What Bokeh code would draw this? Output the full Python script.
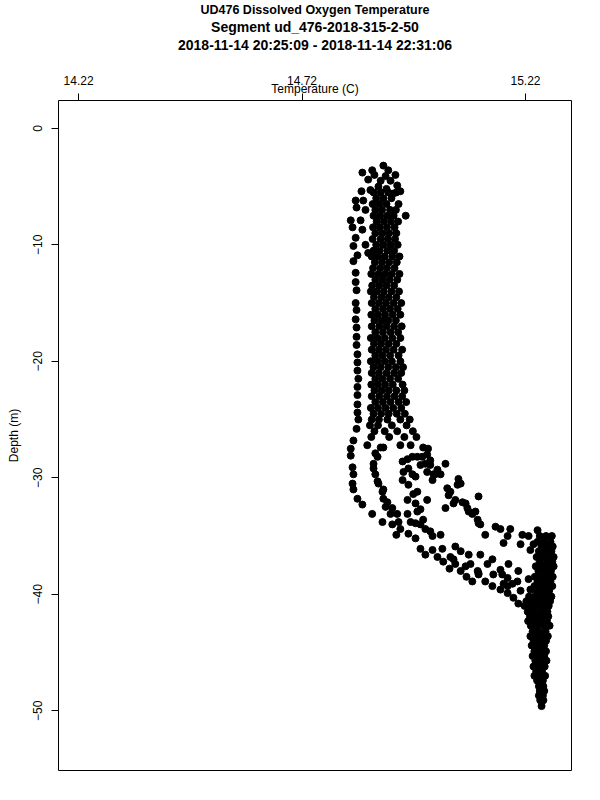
from bokeh.plotting import figure
from bokeh.models import Range1d, FixedTicker, Title
from bokeh.embed import file_html
from bokeh.resources import INLINE

title_lines = ["UD476 Dissolved Oxygen Temperature",
               "Segment ud_476-2018-315-2-50",
               "2018-11-14 20:25:09 - 2018-11-14 22:31:06"]
x_label = "Temperature (C)"
y_label = "Depth (m)"
x_ticks = [14.22, 14.72, 15.22]
y_ticks = [0, -10, -20, -30, -40, -50]

# ---- scattered points near the surface ----
top_temp = [14.902, 14.877, 14.913, 14.855, 14.882, 14.907, 14.929, 14.868, 14.896,
            14.918, 14.933, 14.853, 14.873, 14.891, 14.909, 14.924, 14.940]
top_depth = [-3.2, -3.6, -3.6, -3.8, -4.0, -4.1, -4.0, -4.4, -4.5,
             -4.5, -4.9, -5.4, -5.3, -5.0, -5.2, -5.6, -5.4]

# ---- far-left cast ----
left_temp = [14.840, 14.842, 14.829, 14.833, 14.840, 14.835, 14.844, 14.835, 14.840, 14.840,
             14.842, 14.840, 14.842, 14.840, 14.842, 14.842, 14.842, 14.844, 14.844, 14.844,
             14.846, 14.844, 14.844, 14.844, 14.844, 14.846, 14.842, 14.835, 14.829, 14.829,
             14.833, 14.835, 14.833, 14.835, 14.844, 14.855, 14.877, 14.900]
left_depth = [-6.2, -6.8, -7.9, -8.5, -9.4, -10.1, -10.9, -11.4, -12.4, -13.2,
              -13.9, -15.0, -15.6, -16.4, -17.1, -17.9, -18.6, -19.4, -20.1, -20.8,
              -21.5, -22.2, -22.9, -23.7, -24.4, -25.0, -25.8, -26.8, -27.5, -28.1,
              -29.1, -29.7, -30.5, -31.0, -31.8, -32.3, -33.1, -33.8]

# ---- second cast, upper part ----
second_temp = [14.857, 14.862, 14.851, 14.855, 14.862, 14.868, 14.866]
second_depth = [-6.2, -7.0, -7.9, -8.7, -10.0, -10.7, -27.2]

# ---- dense mixed-layer core: (depth, temperatures) ----
core_rows = [
    (-5.5, [14.880, 14.896, 14.913, 14.931]),
    (-6.0, [14.886, 14.902, 14.920]),
    (-6.5, [14.878, 14.893, 14.909, 14.936]),
    (-7.0, [14.884, 14.899, 14.917, 14.930]),
    (-7.5, [14.880, 14.895, 14.911, 14.925, 14.952]),
    (-8.0, [14.887, 14.903, 14.919, 14.935]),
    (-8.5, [14.879, 14.894, 14.910, 14.927]),
    (-9.0, [14.884, 14.900, 14.915, 14.931]),
    (-9.5, [14.878, 14.896, 14.912, 14.928]),
    (-10.0, [14.886, 14.902, 14.918, 14.934]),
    (-10.5, [14.880, 14.894, 14.911, 14.926]),
    (-11.0, [14.876, 14.890, 14.905, 14.922, 14.938]),
    (-11.5, [14.883, 14.899, 14.915, 14.932]),
    (-12.0, [14.879, 14.895, 14.910, 14.927]),
    (-12.5, [14.875, 14.891, 14.906, 14.921, 14.938]),
    (-13.0, [14.884, 14.900, 14.916, 14.933]),
    (-13.5, [14.877, 14.893, 14.909, 14.926]),
    (-14.0, [14.874, 14.887, 14.903, 14.920, 14.937]),
    (-14.5, [14.881, 14.898, 14.914, 14.931]),
    (-15.0, [14.876, 14.892, 14.908, 14.925, 14.942]),
    (-15.5, [14.884, 14.901, 14.917, 14.934]),
    (-16.0, [14.875, 14.890, 14.906, 14.923, 14.940]),
    (-16.5, [14.882, 14.898, 14.913, 14.930]),
    (-17.0, [14.876, 14.893, 14.909, 14.926, 14.943]),
    (-17.5, [14.884, 14.901, 14.918, 14.935]),
    (-18.0, [14.874, 14.889, 14.905, 14.922, 14.940]),
    (-18.5, [14.881, 14.897, 14.914, 14.931]),
    (-19.0, [14.876, 14.892, 14.908, 14.925, 14.944]),
    (-19.5, [14.884, 14.900, 14.917, 14.936]),
    (-20.0, [14.874, 14.889, 14.905, 14.921, 14.940]),
    (-20.5, [14.880, 14.896, 14.913, 14.930, 14.946]),
    (-21.0, [14.876, 14.892, 14.909, 14.926, 14.942]),
    (-21.5, [14.884, 14.900, 14.917, 14.935]),
    (-22.0, [14.875, 14.890, 14.906, 14.923, 14.945]),
    (-22.5, [14.882, 14.898, 14.914, 14.931, 14.949]),
    (-23.0, [14.876, 14.893, 14.910, 14.927, 14.944]),
    (-23.5, [14.884, 14.901, 14.918, 14.936, 14.953]),
    (-24.0, [14.874, 14.890, 14.907, 14.924, 14.942]),
    (-24.5, [14.880, 14.897, 14.914, 14.932, 14.950]),
    (-25.0, [14.876, 14.892, 14.911, 14.940, 14.961]),
    (-25.5, [14.872, 14.890, 14.921, 14.954]),
    (-26.0, [14.882, 14.905, 14.933, 14.968]),
    (-26.5, [14.875, 14.915, 14.949, 14.976]),
]

# ---- thermocline casts ----
thermo_temp = [
    14.884, 14.889, 14.880, 14.880, 14.884, 14.889, 14.891, 14.902, 14.900, 14.902,
    14.911, 14.907, 14.922, 14.918, 14.933, 14.936, 14.956, 14.963, 14.974, 14.985,
    14.991, 14.996, 15.007, 15.012, 15.030,
    14.896, 14.902, 14.940, 14.963, 14.956, 14.945, 14.958, 14.947, 14.967, 14.974,
    14.945, 14.958, 14.969, 14.956, 14.974, 14.978, 14.985, 15.000, 14.978,
    14.991, 15.002, 14.967, 14.978, 14.989, 15.000, 15.007, 14.985, 14.996, 15.007,
    15.023, 15.018, 15.014, 15.012, 15.000, 15.030, 15.041, 15.070, 15.068, 15.075,
    15.045, 15.052, 15.048, 15.063, 15.059, 15.079, 15.086, 15.090, 15.093, 15.101,
    15.108, 15.115, 15.113, 15.115, 15.041,
    15.034, 15.052, 15.059, 15.063, 15.075, 15.093, 15.086, 15.097, 15.113, 15.115,
    15.119, 15.135, 15.146, 15.148, 15.164, 15.168, 15.171, 15.180, 15.182, 15.180,
    15.191, 15.202, 15.204, 15.209, 15.227, 15.231, 15.247, 15.249,
    15.119, 15.130, 15.153, 15.164, 15.180, 15.186, 15.171, 15.213, 15.227, 15.209,
    15.238, 15.231, 15.247,
    14.922, 14.940, 14.931, 14.958, 14.974, 14.985, 14.996, 15.012, 15.023, 15.036,
    15.050, 15.063, 15.075, 15.088, 15.101, 15.115, 15.130, 15.146, 15.164, 15.180,
    15.193, 15.204,
]
thermo_depth = [
    -27.9, -28.2, -28.8, -29.2, -29.7, -30.3, -30.5, -31.0, -31.2, -31.8,
    -32.1, -32.5, -32.6, -33.1, -33.1, -33.8, -33.1, -33.8, -33.9, -34.0,
    -33.6, -34.4, -34.6, -35.0, -34.9,
    -27.4, -27.4, -27.2, -27.2, -28.4, -28.6, -29.2, -29.5, -29.7, -29.9,
    -30.2, -30.6, -31.4, -31.9, -32.2, -32.9, -32.7, -31.9, -31.2,
    -27.4, -27.5, -28.2, -28.2, -28.2, -28.0, -28.5, -28.9, -28.8, -28.9,
    -29.3, -29.7, -29.7, -30.2, -29.5, -29.7, -28.8, -30.1, -30.6, -30.5,
    -30.9, -31.2, -31.5, -31.9, -32.2, -32.1, -32.2, -32.6, -32.9, -33.1,
    -32.9, -31.6, -33.6, -33.9, -32.6,
    -36.1, -36.8, -37.0, -35.9, -36.3, -36.6, -37.6, -37.4, -38.0, -38.3,
    -36.6, -37.4, -37.0, -38.3, -37.9, -38.3, -39.1, -38.6, -37.4, -39.3,
    -39.1, -38.9, -38.0, -39.7, -38.7, -39.6, -39.1, -39.6,
    -34.0, -34.9, -34.2, -34.4, -35.0, -34.4, -35.6, -34.9, -35.0, -35.7,
    -35.7, -36.2, -34.5,
    -34.0, -34.4, -34.9, -34.8, -35.2, -36.1, -36.6, -36.2, -36.8, -37.2,
    -37.8, -37.4, -38.0, -38.5, -38.9, -38.2, -38.9, -39.3, -39.6, -39.9,
    -40.3, -40.8,
]

# ---- deep layer: (depth, temperatures) ----
deep_rows = [
    (-35.0, [15.252, 15.266, 15.279]),
    (-35.5, [15.247, 15.262, 15.276]),
    (-35.9, [15.256, 15.270, 15.281]),
    (-36.3, [15.250, 15.265, 15.278]),
    (-36.8, [15.245, 15.259, 15.274, 15.283]),
    (-37.2, [15.252, 15.268, 15.280]),
    (-37.6, [15.243, 15.258, 15.272, 15.283]),
    (-38.0, [15.249, 15.263, 15.277]),
    (-38.5, [15.241, 15.256, 15.270, 15.281]),
    (-38.9, [15.247, 15.262, 15.276]),
    (-39.3, [15.240, 15.254, 15.268, 15.280]),
    (-39.7, [15.245, 15.259, 15.273]),
    (-40.2, [15.228, 15.240, 15.253, 15.267, 15.278]),
    (-40.6, [15.222, 15.236, 15.250, 15.264, 15.275]),
    (-41.0, [15.218, 15.232, 15.246, 15.260, 15.272]),
    (-41.5, [15.225, 15.240, 15.255, 15.269]),
    (-41.9, [15.230, 15.244, 15.258, 15.271]),
    (-42.3, [15.226, 15.240, 15.254, 15.268]),
    (-42.7, [15.232, 15.246, 15.261, 15.274]),
    (-43.2, [15.236, 15.250, 15.265]),
    (-43.6, [15.231, 15.245, 15.259, 15.270]),
    (-44.0, [15.238, 15.252, 15.266]),
    (-44.4, [15.234, 15.248, 15.262]),
    (-44.9, [15.240, 15.254, 15.266]),
    (-45.3, [15.236, 15.249, 15.262]),
    (-45.7, [15.242, 15.256, 15.267]),
    (-46.2, [15.238, 15.251, 15.263]),
    (-46.6, [15.244, 15.257]),
    (-47.0, [15.240, 15.253, 15.264]),
    (-47.4, [15.246, 15.259]),
    (-47.9, [15.250, 15.260]),
    (-48.3, [15.252, 15.262]),
    (-48.7, [15.250, 15.259]),
    (-49.1, [15.253, 15.260]),
    (-49.6, [15.256]),
]

temps = top_temp + left_temp + second_temp + thermo_temp
depths = top_depth + left_depth + second_depth + thermo_depth
for d, ts in core_rows + deep_rows:
    temps += ts
    depths += [d] * len(ts)

FONT = "Liberation Sans"

p = figure(width=584, height=784, output_backend="svg", toolbar_location=None,
           x_axis_location="above", title_location=None,
           x_range=Range1d(14.175, 15.323), y_range=Range1d(-55.13, 2.39),
           min_border_left=58, min_border_right=13, min_border_top=97, min_border_bottom=14)
p.grid.visible = False
p.outline_line_color = "black"
p.outline_line_width = 1
p.background_fill_color = "white"
p.border_fill_color = "white"

xa = p.xaxis[0]
xa.ticker = FixedTicker(ticks=x_ticks)
ya = p.yaxis[0]
ya.ticker = FixedTicker(ticks=y_ticks)
ya.major_label_orientation = "vertical"
for ax in (xa, ya):
    ax.major_tick_out = 7
    ax.major_tick_in = 0
    ax.minor_tick_out = 0
    ax.minor_tick_in = 0
    ax.axis_line_color = None
    ax.major_tick_line_color = "black"
    ax.major_label_text_font = FONT
    ax.major_label_text_font_size = "12px"
    ax.major_label_text_color = "black"
    ax.axis_label_text_font = FONT
    ax.axis_label_text_font_size = "12px"
    ax.axis_label_text_font_style = "normal"
    ax.axis_label_text_color = "black"
xa.major_label_standoff = 9
xa.axis_label = x_label
xa.axis_label_standoff = -23
ya.major_label_standoff = 9
ya.axis_label = y_label
ya.axis_label_standoff = 10

p.scatter(x=temps, y=depths, marker="circle", size=7, color="black")

# title block, stacked outward from the top axis: spacer, line 3, line 2, line 1
p.add_layout(Title(text=" ", align="center", standoff=9, text_font=FONT,
                   text_font_size="13px"), "above")
title_sizes = ["12.5px", "14px", "14px"]
for txt, fs in zip(reversed(title_lines), reversed(title_sizes)):
    p.add_layout(Title(text=txt, align="center", standoff=0,
                       text_font=FONT, text_font_size=fs, text_font_style="bold",
                       text_color="black"), "above")

open("out.html", "w").write(file_html(p, INLINE))
